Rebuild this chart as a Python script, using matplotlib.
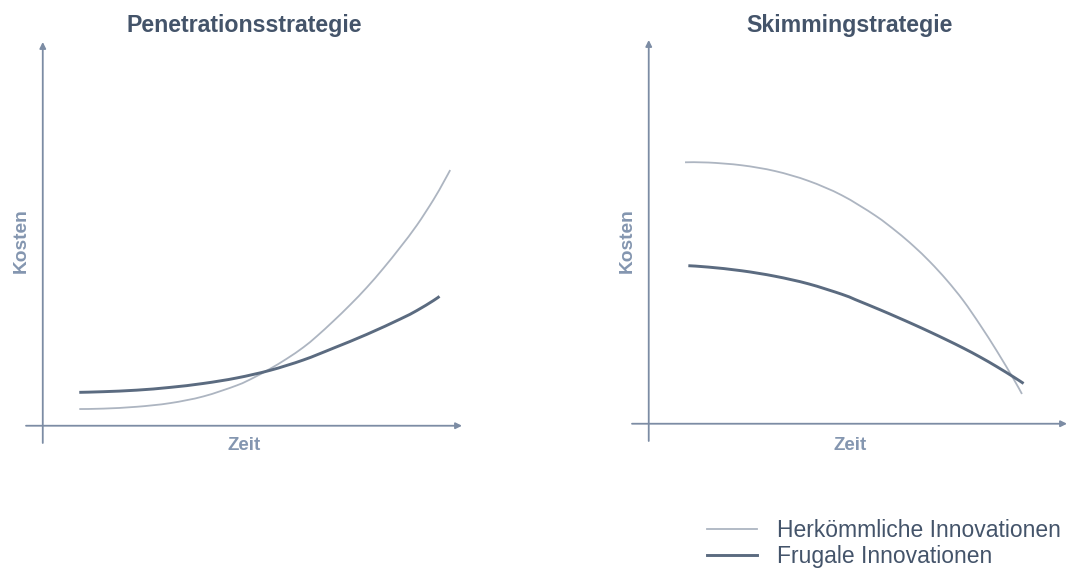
import matplotlib
matplotlib.use('Agg')
import matplotlib.pyplot as plt
from matplotlib.path import Path
from matplotlib.patches import PathPatch
from matplotlib.lines import Line2D

plt.rcParams['font.family'] = ['Liberation Sans', 'DejaVu Sans']

# Werte, Zeit/Kosten in willkuerlichen Einheiten
titles = ['Penetrationsstrategie', 'Skimmingstrategie']
x_label = 'Zeit'
y_label = 'Kosten'
labels = ['Herkömmliche Innovationen', 'Frugale Innovationen']

pen_herk_x = [0.871, 1.444, 2.241, 3.036, 3.831, 4.628, 5.024, 5.422, 5.821, 6.217,
              6.537, 6.933, 7.332, 7.730, 8.126, 8.525, 8.924, 9.320, 9.558, 9.718]
pen_herk_y = [0.435, 0.446, 0.494, 0.589, 0.764, 1.051, 1.249, 1.484, 1.747, 2.044,
              2.332, 2.728, 3.151, 3.605, 4.104, 4.647, 5.226, 5.891, 6.343, 6.663]
pen_frug_x = [0.871, 1.444, 2.241, 3.036, 3.831, 4.628, 5.422, 6.217, 6.933, 7.730,
              8.525, 8.924, 9.320, 9.463]
pen_frug_y = [0.870, 0.887, 0.927, 0.999, 1.102, 1.245, 1.444, 1.714, 2.022, 2.381,
              2.779, 3.002, 3.263, 3.372]

skim_herk_x = [0.868, 1.426, 2.225, 3.022, 3.818, 4.617, 5.414, 5.933, 6.330, 6.730,
               7.129, 7.526, 7.926, 8.325, 8.722, 8.923]
skim_herk_y = [6.813, 6.807, 6.735, 6.584, 6.329, 5.953, 5.427, 5.001, 4.632, 4.212,
               3.737, 3.201, 2.569, 1.891, 1.168, 0.776]
skim_frug_x = [0.947, 1.426, 2.225, 3.022, 3.818, 4.617, 4.935, 5.533, 5.933, 6.330,
               6.730, 7.129, 7.526, 7.926, 8.325, 8.722, 8.962]
skim_frug_y = [4.118, 4.082, 3.986, 3.843, 3.646, 3.374, 3.237, 2.968, 2.780, 2.589,
               2.389, 2.182, 1.968, 1.736, 1.485, 1.219, 1.049]

# Farben
title_col = '#44546a'
axis_col = '#7c8ca4'
label_col = '#8496b0'
light_col = '#adb5c1'
dark_col = '#5b6b80'

W, H = 1070, 570
fig = plt.figure(figsize=(W / 100, H / 100), dpi=100)


def px_box(x0, x1, y_top, y_bot):
    return [x0 / W, 1 - y_bot / H, (x1 - x0) / W, (y_bot - y_top) / H]


def smooth_path(xs, ys):
    pts = list(zip(xs, ys))
    n = len(pts)
    verts = [pts[0]]
    codes = [Path.MOVETO]
    for i in range(n - 1):
        p0 = pts[max(i - 1, 0)]
        p1 = pts[i]
        p2 = pts[i + 1]
        p3 = pts[min(i + 2, n - 1)]
        c1 = (p1[0] + (p2[0] - p0[0]) / 6, p1[1] + (p2[1] - p0[1]) / 6)
        c2 = (p2[0] - (p3[0] - p1[0]) / 6, p2[1] - (p3[1] - p1[1]) / 6)
        verts += [c1, c2, p2]
        codes += [Path.CURVE4] * 3
    return Path(verts, codes)


ax1 = fig.add_axes(px_box(26, 462, 42, 443))
ax2 = fig.add_axes(px_box(632, 1067, 40, 441))

series = [
    (ax1, pen_herk_x, pen_herk_y, pen_frug_x, pen_frug_y),
    (ax2, skim_herk_x, skim_herk_y, skim_frug_x, skim_frug_y),
]

for ax, hx, hy, fx, fy in series:
    ax.set_xlim(-0.4, 10)
    ax.set_ylim(-0.45, 10)
    ax.axis('off')
    arrow = dict(arrowstyle='-|>', color=axis_col, lw=1.3, mutation_scale=9,
                 shrinkA=0, shrinkB=0)
    ax.annotate('', xy=(10, 0), xytext=(-0.4, 0), arrowprops=arrow)
    ax.annotate('', xy=(0, 10), xytext=(0, -0.45), arrowprops=arrow)
    ax.add_patch(PathPatch(smooth_path(hx, hy), fill=False, edgecolor=light_col,
                           lw=1.3, capstyle='butt'))
    ax.add_patch(PathPatch(smooth_path(fx, fy), fill=False, edgecolor=dark_col,
                           lw=2.1, capstyle='butt'))

# Titel und Achsenbeschriftungen
for cx, kx, t in [(244, 21, titles[0]), (850, 627, titles[1])]:
    fig.text(cx / W, 1 - 32 / H, t, ha='center', va='baseline',
             fontsize=16.7, fontweight='bold', color=title_col)
    fig.text(cx / W, 1 - 450 / H, x_label, ha='center', va='baseline',
             fontsize=13.5, fontweight='bold', color=label_col)
    fig.text(kx / W, 1 - 241 / H, y_label, ha='center', va='center', rotation=90,
             fontsize=13.8, fontweight='bold', color=label_col)

handles = [Line2D([], [], color=light_col, lw=1.3),
           Line2D([], [], color=dark_col, lw=2.1)]
fig.legend(handles, labels, loc='upper left', bbox_to_anchor=(707 / W, 1 - 519 / H),
           frameon=False, fontsize=16.5, handlelength=2.2, handletextpad=0.87,
           labelspacing=0.15, borderpad=0, borderaxespad=0, labelcolor=title_col)

fig.savefig('out.png', dpi=100)
